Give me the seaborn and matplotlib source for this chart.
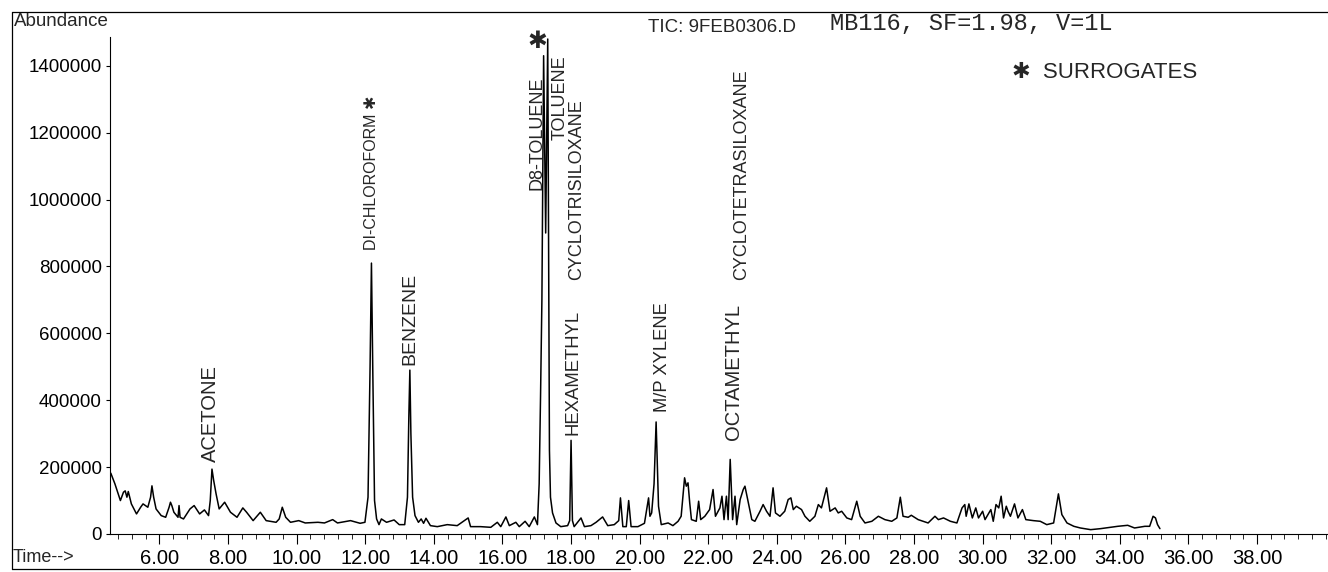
import matplotlib
import matplotlib.pyplot as plt
import seaborn as sns
from matplotlib.lines import Line2D
from matplotlib.ticker import FixedLocator, MultipleLocator

matplotlib.use("Agg")

# ---------------------------------------------------------------------------
# TIC trace: retention time (min) / abundance (x1000)
# ---------------------------------------------------------------------------
RET_TIME = [
    4.58, 4.70, 4.86, 4.95, 5.00, 5.05, 5.09, 5.18, 5.33, 5.45, 5.52, 5.66, 5.74, 5.78, 5.83,
    5.90, 6.05, 6.18, 6.28, 6.32, 6.36, 6.42, 6.54, 6.57, 6.60, 6.70, 6.89, 7.01, 7.17, 7.31,
    7.43, 7.48, 7.53, 7.58, 7.65, 7.74, 7.90, 8.07, 8.26, 8.43, 8.54, 8.73, 8.94, 9.11, 9.40,
    9.49, 9.58, 9.68, 9.82, 10.06, 10.25, 10.62, 10.81, 11.05, 11.19, 11.57, 11.85, 11.99,
    12.08, 12.14, 12.18, 12.22, 12.27, 12.33, 12.40, 12.47, 12.62, 12.84, 12.99, 13.15, 13.23,
    13.27, 13.30, 13.33, 13.38, 13.45, 13.55, 13.63, 13.70, 13.77, 13.90, 14.10, 14.39, 14.68,
    15.00, 15.07, 15.36, 15.66, 15.85, 15.95, 16.10, 16.20, 16.39, 16.49, 16.66, 16.78, 16.93,
    17.02, 17.07, 17.11, 17.15, 17.20, 17.26, 17.32, 17.37, 17.40, 17.46, 17.56, 17.70, 17.90,
    17.96, 18.00, 18.04, 18.09, 18.29, 18.39, 18.58, 18.73, 18.92, 19.07, 19.26, 19.39, 19.44,
    19.51, 19.61, 19.68, 19.75, 19.95, 20.14, 20.26, 20.30, 20.35, 20.42, 20.48, 20.55, 20.63,
    20.83, 20.97, 21.12, 21.21, 21.31, 21.36, 21.41, 21.46, 21.51, 21.65, 21.72, 21.78, 21.90,
    22.04, 22.14, 22.21, 22.34, 22.40, 22.46, 22.53, 22.58, 22.64, 22.71, 22.78, 22.83, 22.93,
    23.02, 23.07, 23.15, 23.27, 23.36, 23.51, 23.60, 23.70, 23.80, 23.89, 23.96, 24.09, 24.23,
    24.33, 24.41, 24.48, 24.57, 24.72, 24.82, 24.96, 25.11, 25.21, 25.30, 25.45, 25.55, 25.70,
    25.79, 25.89, 26.04, 26.18, 26.33, 26.43, 26.57, 26.77, 26.96, 27.15, 27.35, 27.50, 27.60,
    27.68, 27.83, 27.92, 28.12, 28.41, 28.61, 28.71, 28.86, 29.06, 29.25, 29.40, 29.48, 29.52,
    29.60, 29.70, 29.80, 29.88, 30.00, 30.07, 30.24, 30.31, 30.39, 30.47, 30.54, 30.61, 30.69,
    30.74, 30.81, 30.93, 31.03, 31.16, 31.26, 31.48, 31.68, 31.87, 32.07, 32.21, 32.31, 32.46,
    32.66, 32.85, 33.15, 33.44, 33.74, 33.94, 34.23, 34.43, 34.73, 34.87, 34.97, 35.04, 35.10,
    35.17,
]
ABUNDANCE_K = [
    182, 150, 100, 125, 129, 110, 127, 90, 60, 80, 90, 80, 110, 144, 110,
    75, 55, 50, 80, 95, 85, 65, 50, 85, 50, 45, 75, 85, 60, 72,
    55, 100, 194, 160, 120, 75, 95, 65, 50, 78, 65, 40, 65, 40, 35,
    45, 80, 50, 35, 40, 33, 35, 33, 43, 33, 40, 32, 35,
    110, 500, 810, 480, 100, 45, 28, 45, 35, 42, 28, 28, 110,
    350, 490, 300, 110, 55, 35, 45, 32, 47, 25, 22, 28, 25,
    48, 22, 22, 20, 35, 22, 51, 25, 35, 22, 38, 22, 51,
    28, 150, 410, 700, 1430, 900, 1480, 250, 110, 63, 33, 22, 25,
    40, 280, 40, 22, 48, 22, 25, 35, 51, 25, 28, 40, 108,
    22, 22, 100, 22, 22, 32, 108, 53, 63, 150, 335, 83, 28,
    33, 25, 38, 53, 168, 143, 153, 93, 43, 38, 98, 43, 53,
    73, 133, 53, 78, 113, 43, 113, 43, 223, 43, 113, 28, 103,
    133, 143, 103, 43, 38, 68, 88, 68, 53, 138, 63, 53, 68,
    103, 108, 73, 83, 73, 53, 38, 53, 88, 78, 138, 68, 78,
    63, 68, 48, 43, 98, 53, 33, 38, 53, 43, 38, 48, 110,
    53, 50, 56, 43, 33, 53, 43, 48, 38, 33, 78, 88, 53,
    90, 48, 78, 48, 68, 43, 73, 38, 88, 78, 113, 48, 83,
    68, 53, 90, 48, 73, 43, 40, 38, 28, 33, 120, 58, 33,
    23, 18, 13, 16, 20, 23, 26, 18, 23, 23, 53, 48, 28,
    16,
]

X_TICKS = [6, 8, 10, 12, 14, 16, 18, 20, 22, 24, 26, 28, 30, 32, 34, 36, 38]
Y_TICKS = [0, 200000, 400000, 600000, 800000, 1000000, 1200000, 1400000]

# handwritten peak notes
PEAK_NAMES = [
    "ACETONE", "DI-CHLOROFORM \u2731", "BENZENE", "D8-TOLUENE", "TOLUENE",
    "CYCLOTRISILOXANE", "HEXAMETHYL", "M/P XYLENE", "OCTAMETHYL", "CYCLOTETRASILOXANE",
]
# (time, abundance at the lower end of the note, font size)
NOTE_POS = [
    (7.50, 215e3, 14.5), (12.18, 850e3, 11.5), (13.30, 505e3, 14), (17.02, 1.03e6, 13),
    (17.67, 1.178e6, 13), (18.17, 760e3, 13), (18.05, 296e3, 13.3), (20.68, 365e3, 13.2),
    (22.75, 281e3, 14.5), (22.96, 760e3, 13),
]

W, H = 1328, 572

sns.set_style("ticks")
plt.rcParams["font.family"] = ["Liberation Sans", "DejaVu Sans"]

fig = plt.figure(figsize=(W / 100, H / 100), dpi=100)
ax = fig.add_axes([110 / W, 38 / H, (W - 110) / W, (534 - 37) / H])

abundance = [a * 1000 for a in ABUNDANCE_K]
sns.lineplot(x=RET_TIME, y=abundance, ax=ax, color="black", linewidth=1.1,
             estimator=None, sort=False)

ax.set_xlim(4.557, 40.07)
ax.set_ylim(0, 1.486e6)
ax.set_xlabel("")
ax.set_ylabel("")

for side in ("top", "right"):
    ax.spines[side].set_visible(False)
for side in ("left", "bottom"):
    ax.spines[side].set_linewidth(0.8)
    ax.spines[side].set_color("black")

ax.xaxis.set_major_locator(FixedLocator(X_TICKS))
ax.xaxis.set_minor_locator(MultipleLocator(0.4))
ax.set_xticklabels([f"{t:.2f}" for t in X_TICKS])
ax.yaxis.set_major_locator(FixedLocator(Y_TICKS))
ax.set_yticklabels([str(v) for v in Y_TICKS])

ax.tick_params(axis="x", which="major", direction="out", length=7, width=0.8,
               pad=4, labelsize=14.5, colors="black")
ax.tick_params(axis="x", which="minor", direction="out", length=3.5, width=0.7)
ax.tick_params(axis="y", which="major", direction="out", length=3, width=0.8,
               pad=3, labelsize=13.5, colors="black")

# peak notes, written up from just above each peak
for name, (t, v, fs) in zip(PEAK_NAMES, NOTE_POS):
    ax.text(t, v, name, rotation=90, ha="center", va="bottom", fontsize=fs,
            clip_on=False)
ax.text(17.02, 1.47e6, "\u2731", ha="center", va="center", fontsize=17, clip_on=False)
ax.text(30.85, 1.381e6, "\u2731  SURROGATES", ha="left", va="center", fontsize=16)

# printout header / footer
fig.text(14 / W, 1 - 22 / H, "Abundance", ha="left", va="center", fontsize=13.5)
fig.text(648 / W, 1 - 27.5 / H, "TIC: 9FEB0306.D", ha="left", va="center", fontsize=13.5)
fig.text(830 / W, 1 - 24 / H, "MB116, SF=1.98, V=1L", ha="left", va="center",
         fontsize=17, family="Liberation Mono")
fig.text(13 / W, 1 - 557 / H, "Time-->", ha="left", va="center", fontsize=13)

# frame around the printout
frame_kw = dict(transform=fig.transFigure, color="black", linewidth=0.9)
fig.add_artist(Line2D([12 / W, 1], [1 - 12 / H, 1 - 12 / H], **frame_kw))
fig.add_artist(Line2D([12 / W, 12 / W], [1 - 12 / H, 1 - 569 / H], **frame_kw))
fig.add_artist(Line2D([12 / W, 630 / W], [1 - 569 / H, 1 - 569 / H], **frame_kw))

fig.savefig("out.png", dpi=100)
plt.close(fig)
